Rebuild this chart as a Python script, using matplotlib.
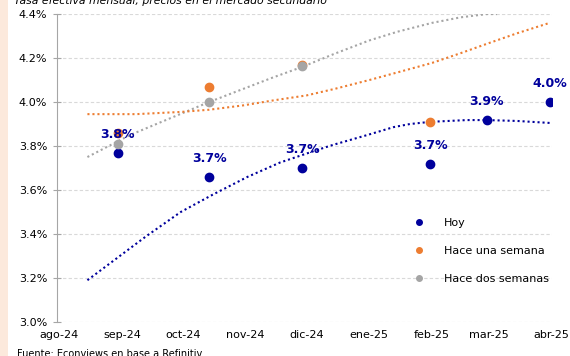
"""Curva de LECAPs: tasa efectiva mensual hoy vs. una y dos semanas atrás."""

import matplotlib

matplotlib.use("Agg")
import matplotlib.pyplot as plt
import numpy as np
from matplotlib.lines import Line2D
from matplotlib.patches import Rectangle
from matplotlib.ticker import FuncFormatter


MONTHS = np.array(
    ["2024-08-01", "2024-09-01", "2024-10-01", "2024-11-01", "2024-12-01",
     "2025-01-01", "2025-02-01", "2025-03-01", "2025-04-01"],
    dtype="datetime64[D]",
)
MONTH_LABELS = ["ago-24", "sep-24", "oct-24", "nov-24", "dic-24",
                "ene-25", "feb-25", "mar-25", "abr-25"]

# Tasas observadas por vencimiento
HOY_DATES = np.array(
    ["2024-08-30", "2024-10-14", "2024-11-29", "2025-01-31", "2025-02-28", "2025-03-31"],
    dtype="datetime64[D]",
)
HOY_RATES = [3.77, 3.66, 3.70, 3.72, 3.92, 4.00]

SEMANA_DATES = np.array(
    ["2024-08-30", "2024-10-14", "2024-11-29", "2025-01-31"], dtype="datetime64[D]"
)
SEMANA_RATES = [3.86, 4.07, 4.17, 3.91]

DOS_SEMANAS_DATES = np.array(
    ["2024-08-30", "2024-10-14", "2024-11-29"], dtype="datetime64[D]"
)
DOS_SEMANAS_RATES = [3.81, 4.00, 4.165]

# Curvas de tendencia (puntos leídos sobre cada curva)
HOY_TREND_DATES = np.array(
    ["2024-08-15", "2024-09-13", "2024-09-30", "2024-10-16", "2024-11-02",
     "2024-11-18", "2024-12-04", "2024-12-14", "2024-12-31", "2025-01-13",
     "2025-01-21", "2025-01-31", "2025-02-18", "2025-02-28", "2025-03-15",
     "2025-03-31"],
    dtype="datetime64[D]",
)
HOY_TREND = [3.19, 3.39, 3.50, 3.58, 3.66, 3.725, 3.775, 3.805, 3.85, 3.886,
             3.90, 3.91, 3.918, 3.918, 3.914, 3.905]

SEMANA_TREND_DATES = np.array(
    ["2024-08-15", "2024-09-08", "2024-09-30", "2024-10-14", "2024-10-31",
     "2024-11-15", "2024-12-01", "2024-12-15", "2025-01-01", "2025-01-15",
     "2025-02-01", "2025-02-15", "2025-03-01", "2025-03-15", "2025-03-31"],
    dtype="datetime64[D]",
)
SEMANA_TREND = [3.945, 3.945, 3.955, 3.965, 3.985, 4.008, 4.03, 4.06, 4.10,
                4.135, 4.178, 4.222, 4.268, 4.313, 4.36]

DOS_SEMANAS_TREND_DATES = np.array(
    ["2024-08-15", "2024-09-05", "2024-10-14", "2024-11-14", "2024-11-29",
     "2024-12-15", "2025-01-01", "2025-01-15", "2025-02-01", "2025-02-15",
     "2025-02-28", "2025-03-05"],
    dtype="datetime64[D]",
)
DOS_SEMANAS_TREND = [3.75, 3.85, 4.00, 4.11, 4.16, 4.22, 4.28, 4.32, 4.36,
                     4.385, 4.40, 4.40]

NAVY = "#00009C"
ORANGE = "#ED7D31"
GREY = "#A5A5A5"
AXIS_GREY = "#A6A6A6"

plt.rcParams["font.family"] = "DejaVu Sans"

fig = plt.figure(figsize=(5.7, 3.56), dpi=100)
ax = fig.add_axes([0.1, 0.0955, 0.868, 0.865])

# franja lateral del informe
fig.patches.append(Rectangle((0, 0), 8 / 570, 1, transform=fig.transFigure,
                             facecolor="#FCE9DC", edgecolor="none"))

dots = dict(lw=1.5, linestyle=(0, (1, 1.4)), dash_capstyle="butt", zorder=2)
ax.plot(DOS_SEMANAS_TREND_DATES, DOS_SEMANAS_TREND, color=GREY, **dots)
ax.plot(SEMANA_TREND_DATES, SEMANA_TREND, color=ORANGE, **dots)
ax.plot(HOY_TREND_DATES, HOY_TREND, color=NAVY, **dots)

ax.plot(HOY_DATES, HOY_RATES, "o", color=NAVY, ms=6, zorder=3)
ax.plot(SEMANA_DATES, SEMANA_RATES, "o", color=ORANGE, ms=6, zorder=3)
ax.plot(DOS_SEMANAS_DATES, DOS_SEMANAS_RATES, "o", color=GREY, ms=6, zorder=3)

for date, rate in zip(HOY_DATES, HOY_RATES):
    ax.annotate(f"{rate:.1f}%", (date, rate), xytext=(0, 13),
                textcoords="offset points", ha="center", va="center",
                fontsize=9, fontweight="bold", color=NAVY, zorder=4)

ax.set_ylim(3.0, 4.4)
ax.set_yticks(np.arange(3.0, 4.41, 0.2))
ax.yaxis.set_major_formatter(FuncFormatter(lambda v, _: f"{v:.1f}%"))
ax.set_xlim(np.datetime64("2024-07-31"), np.datetime64("2025-04-01"))
ax.set_xticks(MONTHS, MONTH_LABELS)

ax.grid(axis="y", color="#D9D9D9", linestyle=(0, (3, 2)), lw=0.8)
ax.set_axisbelow(True)
for side in ("top", "right", "bottom"):
    ax.spines[side].set_visible(False)
ax.spines["left"].set_color(AXIS_GREY)
ax.tick_params(axis="y", direction="inout", length=6, color=AXIS_GREY,
               labelsize=8, pad=4)
ax.tick_params(axis="x", length=0, labelsize=8, pad=6)

handles = [
    Line2D([], [], marker="o", ls="none", color=NAVY, ms=4),
    Line2D([], [], marker="o", ls="none", color=ORANGE, ms=4),
    Line2D([], [], marker="o", ls="none", color=GREY, ms=4),
]
ax.legend(handles, ["Hoy", "Hace una semana", "Hace dos semanas"],
          loc="upper left", bbox_to_anchor=(0.70, 0.37), frameon=False,
          fontsize=8, handlelength=1.0, handletextpad=1.75, labelspacing=1.6)

fig.text(14 / 570, 1 - 4.5 / 356, "Tasa efectiva mensual, precios en el mercado secundario",
         fontsize=7.8, style="italic", va="baseline", ha="left")
fig.text(17 / 570, 7 / 356, "Fuente: Econviews en base a Refinitiv",
         fontsize=7, va="top", ha="left")

fig.savefig("out.png", dpi=100)
